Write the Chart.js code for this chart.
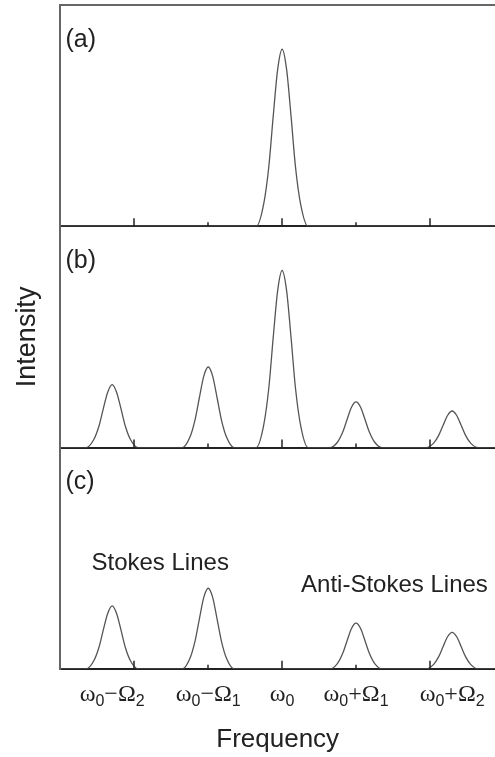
<!DOCTYPE html>
<html>
<head>
<meta charset="utf-8">
<script src="https://cdn.jsdelivr.net/npm/chart.js"></script>
<style>
  body { margin: 0; background: #fff; }
  canvas { display: block; }
</style>
</head>
<body>
<canvas id="raman" width="495" height="757"></canvas>
<script>
const freq = [
  -3.00,
  -2.65, -2.55, -2.48, -2.42, -2.36, -2.30, -2.24, -2.18, -2.12, -2.05, -1.95,
  -1.35, -1.25, -1.18, -1.12, -1.06, -1.00, -0.94, -0.88, -0.82, -0.75, -0.65,
  -0.35, -0.25, -0.18, -0.12, -0.06, 0.00, 0.06, 0.12, 0.18, 0.25, 0.35,
  0.65, 0.75, 0.82, 0.88, 0.94, 1.00, 1.06, 1.12, 1.18, 1.25, 1.35,
  1.95, 2.05, 2.12, 2.18, 2.24, 2.30, 2.36, 2.42, 2.48, 2.55, 2.65,
  2.88
]

const intensityA = [
  0,
  0, 0, 0, 0, 0, 0, 0, 0, 0, 0, 0,
  0, 0, 0, 0, 0, 0, 0, 0, 0, 0, 0,
  0, 10, 27, 50, 71, 80, 71, 50, 27, 10, 0,
  0, 0, 0, 0, 0, 0, 0, 0, 0, 0, 0,
  0, 0, 0, 0, 0, 0, 0, 0, 0, 0, 0,
  0
]

const intensityB = [
  0,
  0, 3.5, 9.5, 17.5, 25, 28.4, 25, 17.5, 9.5, 3.5, 0,
  0, 4.5, 12.3, 22.5, 32.3, 36.4, 32.3, 22.5, 12.3, 4.5, 0,
  0, 10, 27, 50, 71, 80, 71, 50, 27, 10, 0,
  0, 2.5, 7, 12.8, 18.3, 20.6, 18.3, 12.8, 7, 2.5, 0,
  0, 2, 5.6, 10.2, 14.6, 16.5, 14.6, 10.2, 5.6, 2, 0,
  0
]

const intensityC = [
  0,
  0, 3.5, 9.5, 17.5, 25, 28.4, 25, 17.5, 9.5, 3.5, 0,
  0, 4.5, 12.3, 22.5, 32.3, 36.4, 32.3, 22.5, 12.3, 4.5, 0,
  0, 0, 0, 0, 0, 0, 0, 0, 0, 0, 0,
  0, 2.5, 7, 12.8, 18.3, 20.6, 18.3, 12.8, 7, 2.5, 0,
  0, 2, 5.6, 10.2, 14.6, 16.5, 14.6, 10.2, 5.6, 2, 0,
  0
]

const freqTicks = [-2, -1, 0, 1, 2]
const lineFreq = [-2.3, -1, 0, 1, 2.3]
const lineLabels = ['ω_0−Ω_2', 'ω_0−Ω_1', 'ω_0', 'ω_0+Ω_1', 'ω_0+Ω_2']

const panelTags = ['(a)', '(b)', '(c)']
const noteText = ['Stokes Lines', 'Anti-Stokes Lines']
const noteFreq = [-1.65, 1.52]
const noteLevel = [47.5, 37.6]

const panelIds = ['ya', 'yb', 'yc']
const ink = '#222'

const toPoints = (values) => freq.map((f, i) => ({ x: f, y: values[i] }))

const peakLine = (values, axis) => ({
  data: toPoints(values),
  yAxisID: axis,
  borderColor: '#555',
  borderWidth: 1.3,
  pointRadius: 0,
  fill: false,
  cubicInterpolationMode: 'monotone'
})

const panelAxis = (id, tickValues, title) => ({
  type: 'linear',
  position: 'left',
  stack: 'panels',
  stackWeight: 1,
  min: 0,
  max: 100,
  afterBuildTicks: (axis) => { axis.ticks = tickValues.map(v => ({ value: v })) },
  ticks: { display: false },
  grid: {
    drawTicks: false,
    lineWidth: 2,
    color: (c) => c.tick && c.tick.value === 0 ? ink : '#666'
  },
  border: { display: true, color: '#666', width: 2 },
  title: title
    ? { display: true, text: title, color: ink, font: { size: 27 }, padding: { top: 0, bottom: 17 } }
    : { display: false }
})

// ω_0 style labels: "_x" is drawn as a subscript
const drawRichLabel = (ctx, text, cx, baseY) => {
  const parts = text.split(/(_.)/).filter(s => s.length)
  const mainFont = '24px "Liberation Serif"'
  const subFont = '16px "Liberation Sans"'
  const widthOf = (p) => {
    ctx.font = p[0] === '_' ? subFont : mainFont
    return ctx.measureText(p[0] === '_' ? p.slice(1) : p).width
  }
  let x = cx - parts.reduce((s, p) => s + widthOf(p), 0) / 2
  parts.forEach(p => {
    const sub = p[0] === '_'
    ctx.font = sub ? subFont : mainFont
    const t = sub ? p.slice(1) : p
    ctx.fillText(t, x, sub ? baseY + 5 : baseY)
    x += ctx.measureText(t).width
  })
}

const panelDecor = {
  id: 'panelDecor',
  afterDraw(chart) {
    const { ctx, scales, chartArea } = chart
    const x = scales.x
    ctx.save()
    ctx.strokeStyle = ink
    ctx.fillStyle = ink
    ctx.lineWidth = 1.5
    panelIds.forEach((id, i) => {
      const y = scales[id]
      freqTicks.forEach(v => {
        const px = Math.round(x.getPixelForValue(v))
        const len = v % 2 === 0 ? 8 : 4
        ctx.beginPath()
        ctx.moveTo(px, y.bottom)
        ctx.lineTo(px, y.bottom - len)
        ctx.stroke()
      })
      ctx.font = '25px "Liberation Sans"'
      ctx.textAlign = 'left'
      ctx.textBaseline = 'middle'
      ctx.fillText(panelTags[i], chartArea.left + 5, y.top + 35)
    })

    const yc = scales.yc
    ctx.font = '24px "Liberation Sans"'
    ctx.textAlign = 'center'
    noteText.forEach((t, i) => {
      ctx.fillText(t, x.getPixelForValue(noteFreq[i]), yc.getPixelForValue(noteLevel[i]))
    })

    ctx.textAlign = 'left'
    ctx.textBaseline = 'alphabetic'
    lineLabels.forEach((t, i) => {
      drawRichLabel(ctx, t, x.getPixelForValue(lineFreq[i]), chartArea.bottom + 32)
    })
    ctx.restore()
  }
}

Chart.defaults.font.family = '"Liberation Sans", Arial, sans-serif'
Chart.defaults.color = ink

new Chart(document.getElementById('raman').getContext('2d'), {
  type: 'line',
  data: {
    datasets: [
      peakLine(intensityA, 'ya'),
      peakLine(intensityB, 'yb'),
      peakLine(intensityC, 'yc')
    ]
  },
  options: {
    responsive: false,
    animation: false,
    devicePixelRatio: 1,
    layout: { padding: { left: 11, top: 5, right: 0, bottom: 0 } },
    scales: {
      x: {
        type: 'linear',
        position: 'bottom',
        min: -3,
        max: 2.88,
        ticks: { display: false },
        grid: { drawOnChartArea: false, drawTicks: false },
        border: { display: true, color: ink, width: 2 },
        title: { display: true, text: 'Frequency', color: ink, font: { size: 26 }, padding: { top: 55, bottom: 2 } }
      },
      yc: panelAxis('yc', [0]),
      yb: panelAxis('yb', [0], 'Intensity'),
      ya: panelAxis('ya', [0, 100])
    },
    plugins: {
      legend: { display: false },
      tooltip: { enabled: false }
    }
  },
  plugins: [panelDecor]
})
</script>
</body>
</html>
